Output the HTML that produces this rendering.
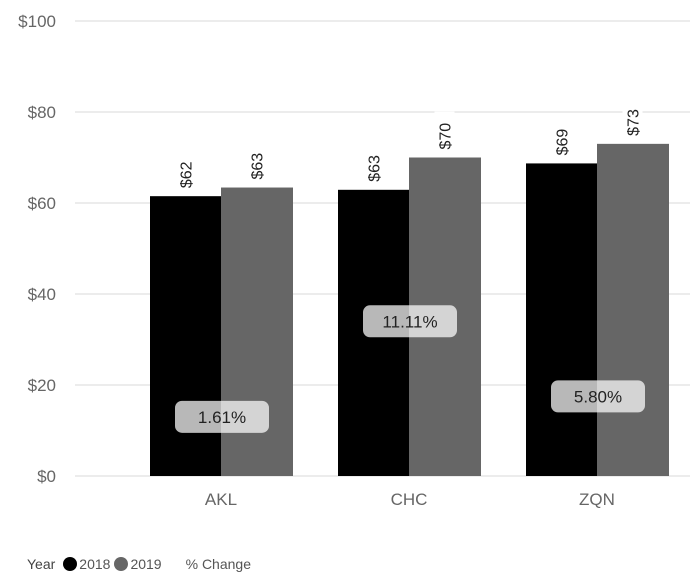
<!DOCTYPE html>
<html><head><meta charset="utf-8"><style>
body{margin:0;background:#fff;}
svg{display:block;font-family:"Liberation Sans",sans-serif;}
</style></head><body>
<svg id="chart" width="691" height="581" viewBox="0 0 691 581"></svg>
<script>
const categories=["AKL","CHC","ZQN"];
const values2018=[61.5,62.9,68.7];
const values2019=[63.4,70.0,73.0];
const priceLabels2018=["$62","$63","$69"];
const priceLabels2019=["$63","$70","$73"];
const pctChange=["1.61%","11.11%","5.80%"];
const pctLabelValue=[13,34,17.5];
const yTicks=[0,20,40,60,80,100];
const yTickLabels=["$0","$20","$40","$60","$80","$100"];

const NS="http://www.w3.org/2000/svg";
const svg=document.getElementById('chart');
const y0=476,y1=21;
function yScale(v){return y0-(v/100)*(y0-y1);}
const catW=188,catStart=127;
function xCenter(i){return catStart+catW*i+catW/2-(catW/2-94);}
function mk(tag,attrs,parent){const e=document.createElementNS(NS,tag);for(const k in attrs)e.setAttribute(k,attrs[k]);(parent||svg).appendChild(e);return e;}

yTicks.forEach((t,i)=>{
  const g=mk('line',{x1:75,x2:690,y1:yScale(t),y2:yScale(t),stroke:'#e6e6e6','stroke-width':1.5});
  
  
  const tx=mk('text',{x:56,y:yScale(t)+6,'text-anchor':'end','font-size':17,fill:'#666'});
  tx.textContent=yTickLabels[i];
  
  
});

categories.forEach((c,i)=>{
  const cx=150+188*i+71;
  const bw=71;
  const b1=mk('rect',{x:cx-bw,y:yScale(values2018[i]),width:bw,height:y0-yScale(values2018[i]),fill:'#000'});
  
  
  const b2=mk('rect',{x:cx,y:yScale(values2019[i]),width:bw+1,height:y0-yScale(values2019[i]),fill:'#666'});
  
  
  [[values2018[i],priceLabels2018[i],cx-bw/2],[values2019[i],priceLabels2019[i],cx+bw/2]].forEach(([v,l,x])=>{
    const yy=yScale(v)-8;
    const bg=mk('rect',{x:x-10,y:yy-38,width:20,height:38,fill:'#fff'});
    
    
    const t=mk('text',{x:0,y:0,'font-size':16,fill:'#222',transform:`translate(${x+6},${yy}) rotate(-90)`});
    t.textContent=l;
    
    
  });
  const py=yScale(pctLabelValue[i]);
  const box=mk('rect',{x:cx-46,y:py-16,width:94,height:32,rx:7,fill:'rgba(255,255,255,0.72)'});
  
  
  const pt=mk('text',{x:cx+1,y:py+6,'text-anchor':'middle','font-size':17,fill:'#222'});
  pt.textContent=pctChange[i];
  
  
  const ct=mk('text',{x:cx,y:505,'text-anchor':'middle','font-size':17,fill:'#666'});
  ct.textContent=c;
  
  
});
</script>
<div style="position:absolute;left:27px;top:556px;font:14px 'Liberation Sans',sans-serif;color:#555;display:flex;align-items:center;">
<span style="margin-right:8px;color:#444">Year</span>
<span style="display:flex;align-items:center;margin-right:4px"><span style="width:14px;height:14px;border-radius:50%;background:#000;display:inline-block;margin-right:2px"></span>2018</span>
<span style="display:flex;align-items:center;margin-right:24px"><span style="width:14px;height:14px;border-radius:50%;background:#666;display:inline-block;margin-right:2px"></span>2019</span>
<span>% Change</span>
</div>
</body></html>
